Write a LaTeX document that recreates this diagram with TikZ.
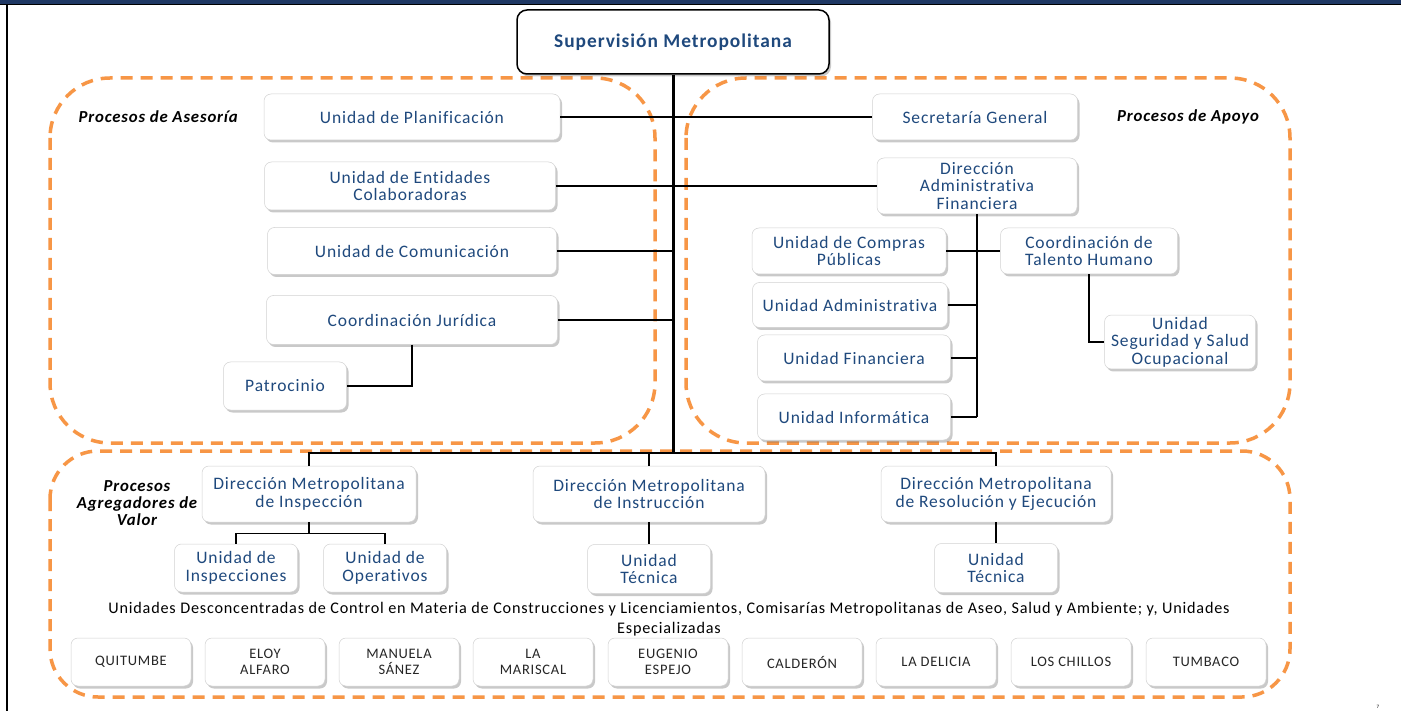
\documentclass[tikz,border=0pt]{standalone}
\usepackage{fontspec}
\setmainfont{Carlito}[LetterSpace=5,Ligatures=CommonOff]
\usetikzlibrary{shadows}
\definecolor{navy}{RGB}{31,73,125}
\definecolor{orng}{RGB}{247,150,70}
\definecolor{barblue}{RGB}{31,56,100}
\begin{document}
\begin{tikzpicture}[x=1pt,y=-1pt,
  box/.style={draw=black!18,line width=0.5pt,fill=white,rounded corners=7pt,
    drop shadow={shadow xshift=2pt,shadow yshift=-2.5pt,opacity=0.35,fill=black!60},
    align=center,text=navy,font=\fontsize{17.5}{17.5}\selectfont,inner sep=2pt},
  sbox/.style={box,text=black!85,font=\fontsize{14.5}{15.5}\selectfont,minimum width=120pt,minimum height=48pt},
  conn/.style={draw=black,line width=1.5pt},
  region/.style={draw=orng,line width=3.5pt,dash pattern=on 12pt off 8pt},
  plabel/.style={font=\fontsize{16.8}{17}\selectfont\bfseries\itshape,align=center,text=black}]
\useasboundingbox (0,0) rectangle (1401,711);
\fill[white] (0,0) rectangle (1401,711);
% top bar and left border
\fill[barblue] (0,0) rectangle (1401,4);
\draw[black,line width=1pt] (0,4.5) -- (1401,4.5);
\draw[black,line width=1.5pt] (7,4) -- (7,711);
% regions
\draw[region,rounded corners=60pt] (50,78) rectangle (655,443);
\draw[region,rounded corners=60pt] (686,78) rectangle (1290,443);
\draw[region,rounded corners=48pt] (50,451) rectangle (1290,697);
% top node
\node[box,draw=black,line width=1.5pt,rounded corners=10pt,minimum width=312pt,minimum height=64pt,
  font=\fontsize{19.4}{20}\selectfont\bfseries] (sup) at (673,42) {Supervisión Metropolitana};
% left column
\node[box,minimum width=296pt,minimum height=46pt] (plan) at (412,117) {Unidad de Planificación};
\node[box,minimum width=291pt,minimum height=48pt] (ent) at (410,186) {Unidad de Entidades\\Colaboradoras};
\node[box,minimum width=289pt,minimum height=47pt] (com) at (412,251) {Unidad de Comunicación};
\node[box,minimum width=291pt,minimum height=49pt] (jur) at (412,320) {Coordinación Jurídica};
\node[box,minimum width=123pt,minimum height=48pt] (pat) at (285,386) {Patrocinio};
% right column
\node[box,minimum width=205pt,minimum height=46pt] (sec) at (975,117) {Secretaría General};
\node[box,minimum width=200pt,minimum height=56pt] (daf) at (977,186) {Dirección\\Administrativa\\Financiera};
\node[box,minimum width=194pt,minimum height=46pt] (comp) at (849,251) {Unidad de Compras\\Públicas};
\node[box,minimum width=177pt,minimum height=46pt] (tal) at (1089,251) {Coordinación de\\Talento Humano};
\node[box,minimum width=195pt,minimum height=45pt] (adm) at (850,305) {Unidad Administrativa};
\node[box,minimum width=193pt,minimum height=46pt] (fin) at (854,358) {Unidad Financiera};
\node[box,minimum width=193pt,minimum height=46pt] (inf) at (854,417) {Unidad Informática};
\node[box,minimum width=151pt,minimum height=49pt] (seg) at (1180,342) {Unidad\\Seguridad y Salud\\Ocupacional};
% bottom directions
\node[box,minimum width=214pt,minimum height=56pt] (dmi) at (309,494) {Dirección Metropolitana\\de Inspección};
\node[box,minimum width=232pt,minimum height=56pt] (dmn) at (649,494) {Dirección Metropolitana\\de Instrucción};
\node[box,minimum width=230pt,minimum height=56pt] (dmr) at (996,494) {Dirección Metropolitana\\de Resolución y Ejecución};
\node[box,minimum width=123pt,minimum height=48pt] (uins) at (236,568) {Unidad de\\Inspecciones};
\node[box,minimum width=123pt,minimum height=48pt] (uop) at (385,568) {Unidad de\\Operativos};
\node[box,minimum width=123pt,minimum height=49pt] (ut1) at (649,569) {Unidad\\Técnica};
\node[box,minimum width=123pt,minimum height=49pt] (ut2) at (996,568) {Unidad\\Técnica};
% labels
\node[plabel,anchor=west] (la) at (75,117) {Procesos de Asesoría};
\node[plabel] (lb) at (1188,117) {Procesos de Apoyo};
\node[plabel] (lc) at (137,503) {Procesos\\Agregadores de\\Valor};
\node[align=center,font=\fontsize{16.2}{20}\selectfont,text=black] (desc) at (669,619)
  {Unidades Desconcentradas de Control en Materia de Construcciones y Licenciamientos, Comisarías Metropolitanas de Aseo, Salud y Ambiente; y, Unidades\\Especializadas};
% district boxes
\node[sbox] (d1) at (131,662) {QUITUMBE};
\node[sbox] (d2) at (265,662) {ELOY\\ALFARO};
\node[sbox] (d3) at (399,662) {MANUELA\\SÁNEZ};
\node[sbox] (d4) at (533,662) {LA\\MARISCAL};
\node[sbox] (d5) at (668,662) {EUGENIO\\ESPEJO};
\node[sbox] (d6) at (802,662) {CALDERÓN};
\node[sbox] (d7) at (936,662) {LA DELICIA};
\node[sbox] (d8) at (1071,662) {LOS CHILLOS};
\node[sbox] (d9) at (1206,662) {TUMBACO};
\node[font=\fontsize{5}{6}\selectfont] (pg) at (1378,707) {7};
% connectors
\coordinate (tb) at (673,453);
\draw[black,line width=3pt] (sup.south) -- (tb);
\draw[conn] (plan.east) -- (sec.west);
\draw[conn] (ent.east) -- (daf.west);
\draw[conn] (com.east) -- (com.east -| tb);
\draw[conn] (jur.east) -- (jur.east -| tb);
\draw[conn] (jur.south) |- (pat.east);
\draw[conn] (daf.south) -- (daf.south |- inf.east);
\draw[conn] (comp.east) -- (tal.west);
\draw[conn] (adm.east) -- (adm.east -| daf.south);
\draw[conn] (fin.east) -- (fin.east -| daf.south);
\draw[conn] (inf.east) -- (inf.east -| daf.south);
\draw[conn] (tal.south) |- (seg.west);
\draw[conn] (dmi.north) -- (dmi.north |- tb) -| (dmr.north);
\draw[conn] (dmn.north) -- (dmn.north |- tb);
\draw[conn] (dmi.south) -- ++(0,11) coordinate (ij) -| (uins.north);
\draw[conn] (ij) -| (uop.north);
\draw[conn] (dmn.south) -- (ut1.north);
\draw[conn] (dmr.south) -- (ut2.north);
\end{tikzpicture}
\end{document}
